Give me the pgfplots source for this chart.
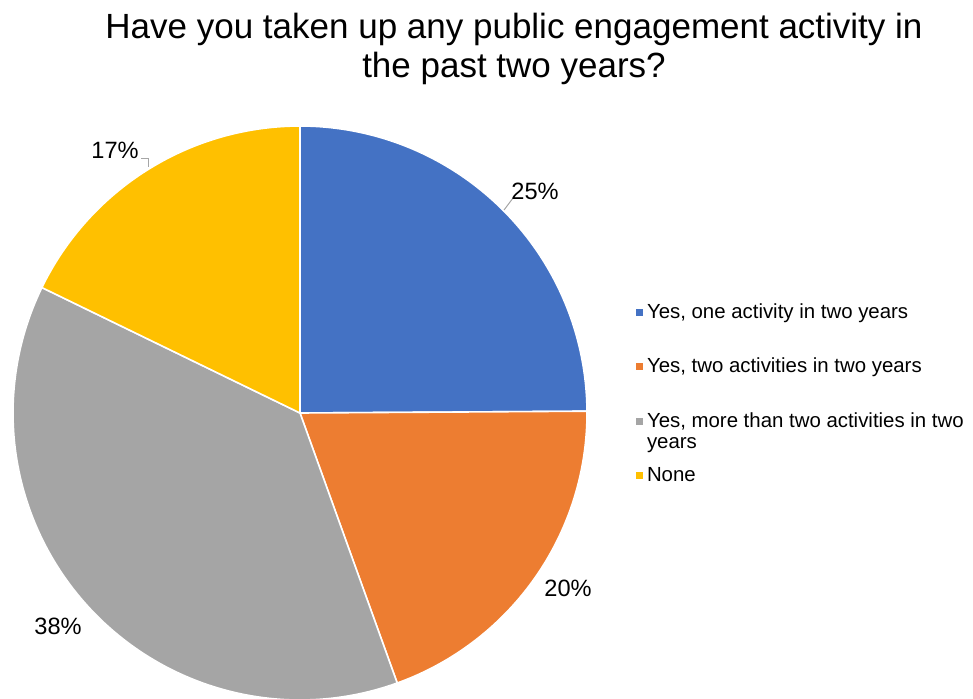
\documentclass[border=0pt]{standalone}
\usepackage{pgfplots}
\pgfplotsset{compat=1.18}
\usepackage{fontspec}
\setmainfont{Liberation Sans}
\definecolor{pieblue}{HTML}{4472C4}
\definecolor{pieorange}{HTML}{ED7D31}
\definecolor{piegray}{HTML}{A5A5A5}
\definecolor{pieyellow}{HTML}{FFC000}
\definecolor{leader}{HTML}{A6A6A6}
% shares (percent)
\def\vA{24.9}
\def\vB{19.6}
\def\vC{37.7}
\def\vD{17.8}
\begin{document}
\begin{tikzpicture}
\pgfmathsetmacro{\aA}{90}
\pgfmathsetmacro{\aB}{\aA-3.6*\vA}
\pgfmathsetmacro{\aC}{\aB-3.6*\vB}
\pgfmathsetmacro{\aD}{\aC-3.6*\vC}
\pgfmathsetmacro{\aE}{\aD-3.6*\vD}
\begin{axis}[
  scale only axis, width=486.5pt, height=349pt,
  xmin=0, xmax=973, ymin=0, ymax=698,
  hide axis, clip=true,
  legend cell align=left,
  legend style={draw=none, fill=none, at={(axis cs:636,399)}, anchor=north west,
    inner sep=0pt, outer sep=0pt,
    font=\fontsize{10.2}{11.7}\selectfont, row sep=14.3pt,
    cells={inner sep=0pt, text height=7.5pt, text depth=2.2pt},
    /tikz/every even column/.append style={column sep=3.5pt}},
  legend image code/.code={\fill[#1, draw=none] (0pt,-1.75pt) rectangle (3.5pt,1.75pt);},
]
\addplot[fill=pieblue, draw=white, line width=0.8pt, domain=\aB:\aA, samples=90, variable=\t]
  ({300+287*cos(t)},{285+287*sin(t)}) -- (axis cs:300,285) -- cycle;
\addlegendentry{Yes, one activity in two years}
\addplot[fill=pieorange, draw=white, line width=0.8pt, domain=\aC:\aB, samples=90, variable=\t]
  ({300+287*cos(t)},{285+287*sin(t)}) -- (axis cs:300,285) -- cycle;
\addlegendentry{Yes, two activities in two years}
\addplot[fill=piegray, draw=white, line width=0.8pt, domain=\aD:\aC, samples=120, variable=\t]
  ({300+287*cos(t)},{285+287*sin(t)}) -- (axis cs:300,285) -- cycle;
\addlegendentry{\smash{\begin{tabular}[t]{@{}l@{}}Yes, more than two activities in two\\[-1pt]years\end{tabular}}}
\addplot[fill=pieyellow, draw=white, line width=0.8pt, domain=\aE:\aD, samples=90, variable=\t]
  ({300+287*cos(t)},{285+287*sin(t)}) -- (axis cs:300,285) -- cycle;
\addlegendentry{None}
% leader lines
\draw[leader, line width=0.5pt] (axis cs:513,500) -- (axis cs:504,488);
\draw[leader, line width=0.5pt] (axis cs:141,540) -- (axis cs:148,540) -- (axis cs:148,531);
% data labels
\node[font=\fontsize{11.8}{13}\selectfont] at (axis cs:535,507) {25\%};
\node[font=\fontsize{11.8}{13}\selectfont] at (axis cs:568,110) {20\%};
\node[font=\fontsize{11.8}{13}\selectfont] at (axis cs:58,72) {38\%};
\node[font=\fontsize{11.8}{13}\selectfont] at (axis cs:115,548) {17\%};
% title
\node[font=\fontsize{17.5}{20}\selectfont, anchor=base] at (axis cs:514,660) {Have you taken up any public engagement activity in};
\node[font=\fontsize{17.5}{20}\selectfont, anchor=base] at (axis cs:514,620) {the past two years?};
\end{axis}
\pgfresetboundingbox
\path (current axis.south west) rectangle (current axis.north east);
\end{tikzpicture}
\end{document}
